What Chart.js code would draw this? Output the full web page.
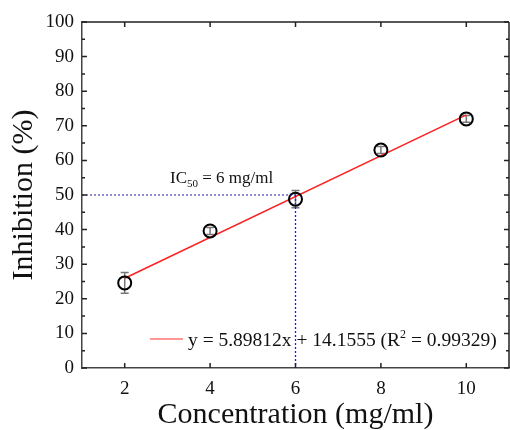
<!DOCTYPE html>
<html>
<head>
<meta charset="utf-8">
<script src="https://cdn.jsdelivr.net/npm/chart.js@4.4.1/dist/chart.umd.min.js"></script>
<style>
  html, body { margin: 0; padding: 0; background: #fff; }
  #wrap { width: 510px; height: 430px; }
</style>
</head>
<body>
<div id="wrap"><canvas id="c" width="510" height="430"></canvas></div>
<script>
// Measured inhibition vs. concentration, with standard deviations
const concentration = [2, 4, 6, 8, 10];
const inhibition = [24.6, 39.6, 48.8, 63.0, 72.0];
const inhibitionErr = [3.0, 1.0, 2.5, 1.0, 1.0];

// Linear fit y = a*x + b
const fitSlope = 5.89812;
const fitIntercept = 14.1555;
const fitR2 = 0.99329;
const fitRange = [2, 10];

// IC50 marker
const ic50Conc = 6;
const ic50Level = 50;

// Axis ticks
const xTicks = [2, 4, 6, 8, 10];
const yTicks = [0, 10, 20, 30, 40, 50, 60, 70, 80, 90, 100];
const yMinorTicks = [5, 15, 25, 35, 45, 55, 65, 75, 85, 95];
const xRange = [1, 11];

const FONT = "'Liberation Serif', 'Times New Roman', serif";

const fitPoints = fitRange.map(x => ({ x, y: fitSlope * x + fitIntercept }));
const dataPoints = concentration.map((x, i) => ({ x, y: inhibition[i] }));

// Inward ticks, mirrored axes, error bars and text annotations
const framePlugin = {
  id: 'frame',
  beforeDatasetsDraw(chart) {
    const { ctx } = chart;
    const xs = chart.scales.x, ys = chart.scales.y;
    ctx.save();
    ctx.strokeStyle = '#777';
    ctx.lineWidth = 1.5;
    concentration.forEach((c, i) => {
      const px = xs.getPixelForValue(c);
      const top = ys.getPixelForValue(inhibition[i] + inhibitionErr[i]);
      const bot = ys.getPixelForValue(inhibition[i] - inhibitionErr[i]);
      ctx.beginPath();
      ctx.moveTo(px, top); ctx.lineTo(px, bot);
      ctx.moveTo(px - 4, top); ctx.lineTo(px + 4, top);
      ctx.moveTo(px - 4, bot); ctx.lineTo(px + 4, bot);
      ctx.stroke();
    });
    ctx.restore();
  },
  afterDraw(chart) {
    const { ctx, chartArea: a } = chart;
    const xs = chart.scales.x, ys = chart.scales.y;
    ctx.save();
    // top and right frame lines
    ctx.strokeStyle = '#222';
    ctx.lineWidth = 1.5;
    ctx.beginPath();
    ctx.moveTo(a.left, a.top); ctx.lineTo(a.right, a.top);
    ctx.moveTo(a.right, a.top); ctx.lineTo(a.right, a.bottom);
    ctx.stroke();

    // inward tick marks
    ctx.lineWidth = 1.5;
    ctx.beginPath();
    xTicks.forEach(v => {
      const px = xs.getPixelForValue(v);
      ctx.moveTo(px, a.bottom); ctx.lineTo(px, a.bottom - 5);
      ctx.moveTo(px, a.top); ctx.lineTo(px, a.top + 5);
    });
    yTicks.forEach(v => {
      const py = ys.getPixelForValue(v);
      ctx.moveTo(a.left, py); ctx.lineTo(a.left + 5, py);
      ctx.moveTo(a.right, py); ctx.lineTo(a.right - 5, py);
    });
    yMinorTicks.forEach(v => {
      const py = ys.getPixelForValue(v);
      ctx.moveTo(a.left, py); ctx.lineTo(a.left + 3, py);
      ctx.moveTo(a.right, py); ctx.lineTo(a.right - 3, py);
    });
    ctx.stroke();

    // IC50 label
    ctx.fillStyle = '#111';
    ctx.textBaseline = 'alphabetic';
    ctx.textAlign = 'left';
    let tx = 170, ty = 183;
    ctx.font = `17px ${FONT}`;
    ctx.fillText('IC', tx, ty);
    tx += ctx.measureText('IC').width;
    ctx.font = `11px ${FONT}`;
    ctx.fillText('50', tx, ty + 4);
    tx += ctx.measureText('50').width;
    ctx.font = `17px ${FONT}`;
    ctx.fillText(` = ${ic50Conc} mg/ml`, tx, ty);

    // fit legend
    const ly = 339;
    ctx.strokeStyle = '#ff3030';
    ctx.lineWidth = 1.2;
    ctx.beginPath();
    ctx.moveTo(150, ly); ctx.lineTo(183, ly);
    ctx.stroke();
    tx = 188; ty = 346;
    ctx.font = `19.5px ${FONT}`;
    const part1 = `y = ${fitSlope}x + ${fitIntercept} (R`;
    ctx.fillText(part1, tx, ty);
    tx += ctx.measureText(part1).width;
    ctx.font = `12px ${FONT}`;
    ctx.fillText('2', tx, ty - 8);
    tx += ctx.measureText('2').width;
    ctx.font = `19.5px ${FONT}`;
    ctx.fillText(` = ${fitR2})`, tx, ty);
    ctx.restore();
  }
};

new Chart(document.getElementById('c'), {
  type: 'scatter',
  data: {
    datasets: [
      {
        type: 'line',
        data: [{ x: xRange[0], y: ic50Level }, { x: ic50Conc, y: ic50Level }],
        borderColor: '#1c1ca0',
        borderWidth: 1,
        borderDash: [2, 2],
        pointRadius: 0,
        fill: false
      },
      {
        type: 'line',
        data: [{ x: ic50Conc, y: ic50Level }, { x: ic50Conc, y: 0 }],
        borderColor: '#1a1aff',
        borderWidth: 1.3,
        borderDash: [2, 2],
        pointRadius: 0,
        fill: false
      },
      {
        data: dataPoints,
        pointStyle: 'circle',
        pointRadius: 6.5,
        pointBorderWidth: 2,
        borderColor: '#000',
        backgroundColor: 'rgba(0,0,0,0)'
      },
      {
        type: 'line',
        data: fitPoints,
        borderColor: '#ff2020',
        borderWidth: 1.5,
        pointRadius: 0,
        fill: false
      }
    ]
  },
  options: {
    responsive: false,
    animation: false,
    devicePixelRatio: 1,
    layout: { autoPadding: false, padding: { top: 22, right: 1, left: 0, bottom: 0 } },
    plugins: { legend: { display: false }, tooltip: { enabled: false } },
    scales: {
      x: {
        type: 'linear',
        min: xRange[0],
        max: xRange[1],
        afterBuildTicks: s => { s.ticks = xTicks.map(v => ({ value: v })); },
        afterFit: s => { s.height = 62; s.paddingLeft = 0; s.paddingRight = 0; },
        ticks: { color: '#111', font: { family: FONT, size: 19 }, padding: 10 },
        grid: { display: false, drawTicks: false },
        border: { display: true, color: '#444', width: 1.5 },
        title: {
          display: true, text: 'Concentration (mg/ml)', color: '#111',
          font: { family: FONT, size: 30, lineHeight: 1.2 }, padding: { top: 0, bottom: -3 }
        }
      },
      y: {
        type: 'linear',
        min: 0,
        max: 100,
        afterBuildTicks: s => { s.ticks = yTicks.map(v => ({ value: v })); },
        afterFit: s => { s.width = 82; },
        ticks: { color: '#111', font: { family: FONT, size: 19 }, padding: 8 },
        grid: { display: false, drawTicks: false },
        border: { display: true, color: '#444', width: 1.5 },
        title: {
          display: true, text: 'Inhibition (%)', color: '#111',
          font: { family: FONT, size: 30, lineHeight: 1.2 }, padding: { top: 6, bottom: 0 }
        }
      }
    }
  },
  plugins: [framePlugin]
});
</script>
</body>
</html>
